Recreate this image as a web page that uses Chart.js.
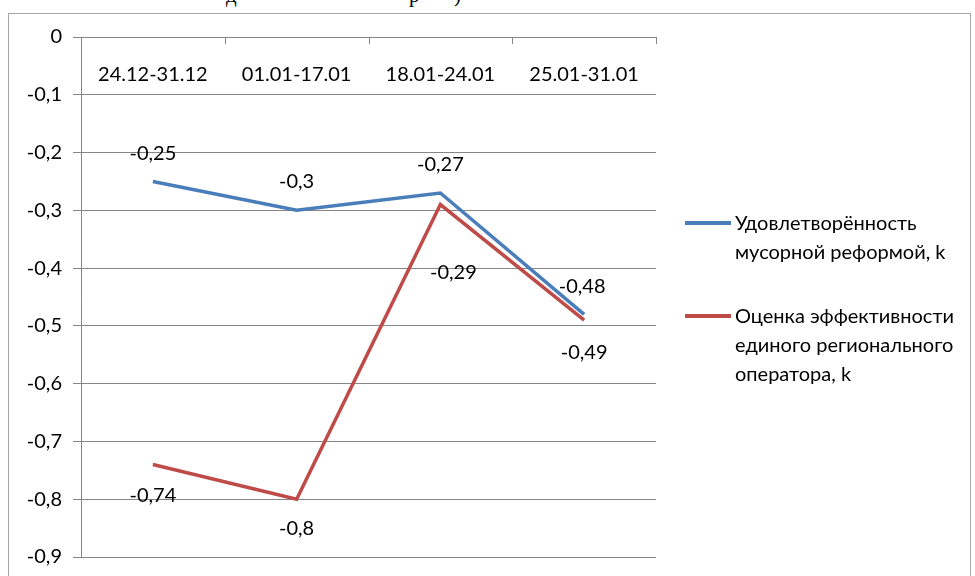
<!DOCTYPE html>
<html>
<head>
<meta charset="utf-8">
<script src="https://cdn.jsdelivr.net/npm/chart.js@4.4.1/dist/chart.umd.min.js"></script>
<style>
  html, body { margin: 0; padding: 0; background: #fff; }
  #wrap { position: relative; width: 975px; height: 576px; overflow: hidden; font-family: Lato, sans-serif; }
  #frame { position: absolute; left: 8px; top: 13px; width: 961px; height: 600px; border: 1.5px solid #a6a6a6; }
  #salesChart { position: absolute; left: 0; top: 0; }
  .cut { position: absolute; top: -17px; font-family: "Liberation Serif", serif; font-size: 21px; color: #000; }
  .leg { position: absolute; left: 685px; font-size: 20px; line-height: 29px; color: #000; }
  .leg i { position: absolute; left: 0; top: 13px; width: 46px; height: 3.5px; }
  .leg span { display: block; margin-left: 50px; white-space: nowrap; }
</style>
</head>
<body>
<div id="wrap">
  <div id="frame"></div>
  <div class="cut" style="left:226px">д</div>
  <div class="cut" style="left:409px">р</div>
  <div class="cut" style="left:454px">)</div>
  <canvas id="salesChart" width="975" height="576"></canvas>
  <div id="legend"></div>
</div>
<script>
// Данные графика
const periods = ['24.12-31.12', '01.01-17.01', '18.01-24.01', '25.01-31.01'];
const satisfaction = [-0.25, -0.3, -0.27, -0.48];
const operatorScore = [-0.74, -0.8, -0.29, -0.49];
const yTicks = [0, -0.1, -0.2, -0.3, -0.4, -0.5, -0.6, -0.7, -0.8, -0.9];
const seriesNames = [
    ['Удовлетворённость', 'мусорной реформой, k'],
    ['Оценка эффективности', 'единого регионального', 'оператора, k']
];

const blue = '#4A7EBB';
const red = '#BE4B48';
// смещения подписей значений (пиксели)
const labelShift = [
    [[0, -28], [0, -29], [0, -28], [-2, -28]],
    [[0, 31], [0, 29], [13, 68], [0, 32]]
];

const fmt = v => String(v).replace('.', ',');

// Подписи значений и подписи категорий
const labelsPlugin = {
    id: 'labelsPlugin',
    afterDatasetsDraw(chart) {
        const c = chart.ctx;
        c.save();
        c.font = '20px Lato';
        c.fillStyle = '#000';
        c.textAlign = 'center';
        c.textBaseline = 'middle';
        chart.data.datasets.forEach((ds, i) => {
            chart.getDatasetMeta(i).data.forEach((pt, j) => {
                const s = labelShift[i][j];
                c.fillText(fmt(ds.data[j]), pt.x + s[0], pt.y + s[1]);
            });
        });
        const x = chart.scales.x;
        const top = chart.chartArea.top;
        periods.forEach((p, j) => {
            c.fillText(p, x.getPixelForValue(j), top + 38);
        });
        // штрихи оси категорий
        c.strokeStyle = '#868686';
        c.lineWidth = 1;
        for (let j = 0; j < periods.length; j++) {
            const bx = (x.getPixelForValue(j) + x.getPixelForValue(j + 1)) / 2;
            const px = j === periods.length - 1 ? chart.chartArea.right - 0.5 : bx;
            c.beginPath();
            c.moveTo(Math.round(px) + 0.5, top);
            c.lineTo(Math.round(px) + 0.5, top + 7);
            c.stroke();
        }
        c.restore();
    }
};

const ctx = document.getElementById('salesChart').getContext('2d');
const chart = new Chart(ctx, {
    type: 'line',
    data: {
        labels: periods,
        datasets: [{
            label: seriesNames[0].join(' '),
            data: satisfaction,
            borderColor: blue,
            borderWidth: 3.5,
            pointRadius: 0,
            tension: 0
        }, {
            label: seriesNames[1].join(' '),
            data: operatorScore,
            borderColor: red,
            borderWidth: 3.5,
            pointRadius: 0,
            tension: 0
        }]
    },
    options: {
        responsive: false,
        animation: false,
        layout: { padding: { left: 0, top: 37, right: 319, bottom: 19 } },
        plugins: { legend: { display: false }, tooltip: { enabled: false } },
        scales: {
            x: {
                position: 'top',
                offset: true,
                grid: { display: false },
                border: { display: false },
                ticks: { display: false },
                afterFit: s => { s.height = 0; }
            },
            y: {
                min: -0.9,
                max: 0,
                afterFit: s => { s.width = 81; s.paddingTop = 0; s.paddingBottom = 0; },
                afterBuildTicks: s => { s.ticks = yTicks.map(v => ({ value: v })); },
                grid: { color: '#868686', lineWidth: 1, tickLength: 8 },
                border: { color: '#868686', width: 1 },
                ticks: {
                    padding: 11,
                    color: '#000',
                    font: { family: 'Lato', size: 20 },
                    callback: v => fmt(Math.round(v * 10) / 10)
                }
            }
        }
    },
    plugins: [labelsPlugin]
});

// Легенда
const legend = document.getElementById('legend');
const legendTops = [208, 301];
[blue, red].forEach((col, i) => {
    const d = document.createElement('div');
    d.className = 'leg';
    d.style.top = legendTops[i] + 'px';
    d.innerHTML = `<i style="background:${col}"></i>` + seriesNames[i].map(t => `<span>${t}</span>`).join('');
    legend.appendChild(d);
});
</script>
</body>
</html>
